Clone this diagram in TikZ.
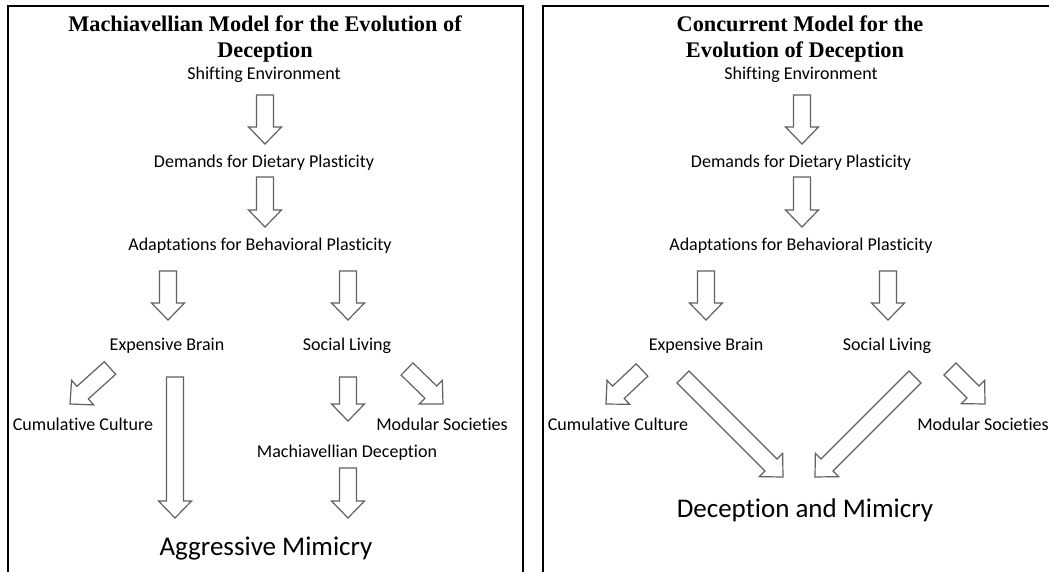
\documentclass[tikz,border=0pt]{standalone}
\usepackage{fontspec}
\setmainfont{Carlito}[Ligatures=NoCommon]
\newfontfamily\titlefont{Liberation Serif}
\usetikzlibrary{calc}
\tikzset{
  lbl/.style={font=\fontsize{18}{22}\selectfont, anchor=base, inner sep=0pt},
  bigl/.style={font=\fontsize{27}{32}\selectfont, anchor=base, inner sep=0pt},
  ttl/.style={font=\titlefont\bfseries\fontsize{22.3}{26}\selectfont, anchor=base, inner sep=0pt},
  panel/.style={line width=2pt, draw=black},
  blockarrow/.style={draw=black!62, fill=white, line width=1.2pt, line join=miter},
}
\newcommand\barrow[2]{%
  \coordinate (hh) at ($(#2)!17pt!(#1)$);
  \draw[blockarrow] ($(#1)!8.5pt!90:(#2)$) -- ($(hh)!8.5pt!90:(#2)$) -- ($(hh)!16.5pt!90:(#2)$)
    -- (#2) -- ($(hh)!16.5pt!-90:(#2)$) -- ($(hh)!8.5pt!-90:(#2)$) -- ($(#1)!8.5pt!-90:(#2)$) -- cycle;}
\begin{document}
\begin{tikzpicture}[x=1pt,y=-1pt]
\useasboundingbox (0,0) rectangle (1049,572);
\clip (0,0) rectangle (1049,572);
\fill[white] (0,0) rectangle (1049,572);
% panels
\draw[panel] (8,590) -- (8,6) -- (523,6) -- (523,590);
\draw[panel] (543,590) -- (543,6) -- (1070,6) -- (1070,590);

% ---------- left panel ----------
\node[ttl] (lt1) at (265,32) {Machiavellian Model for the Evolution of};
\node[ttl] (lt2) at (265,58) {Deception};
\node[lbl] (lse) at (264,80) {Shifting Environment};
\node[lbl] (ldd) at (264,168) {Demands for Dietary Plasticity};
\node[lbl] (lab) at (260,250) {Adaptations for Behavioral Plasticity};
\node[lbl] (leb) at (167,350) {Expensive Brain};
\node[lbl] (lsl) at (347,350) {Social Living};
\node[lbl] (lcc) at (83,430) {Cumulative Culture};
\node[lbl] (lms) at (442,430) {Modular Societies};
\node[lbl] (lmd) at (347,457) {Machiavellian Deception};
\node[bigl] (lam) at (266,555) {Aggressive Mimicry};

\coordinate (la1s) at (265,95);  \coordinate (la1e) at (265,144);
\coordinate (la2s) at (265,177); \coordinate (la2e) at (265,227);
\coordinate (la3s) at (168,271); \coordinate (la3e) at (168,320);
\coordinate (la4s) at (348,271); \coordinate (la4e) at (348,320);
\coordinate (la5s) at (110,368); \coordinate (la5e) at (70,404);
\coordinate (la6s) at (175,377); \coordinate (la6e) at (175,518);
\coordinate (la7s) at (348,377); \coordinate (la7e) at (348,421);
\coordinate (la8s) at (407,369); \coordinate (la8e) at (443,404);
\coordinate (la9s) at (348,468); \coordinate (la9e) at (348,518);
\foreach \a in {1,...,9}{\barrow{la\a s}{la\a e}}

% ---------- right panel ----------
\node[ttl] (rt1) at (800,32) {Concurrent Model for the};
\node[ttl] (rt2) at (795,58) {Evolution of Deception};
\node[lbl] (rse) at (801,80) {Shifting Environment};
\node[lbl] (rdd) at (801,168) {Demands for Dietary Plasticity};
\node[lbl] (rab) at (801,250) {Adaptations for Behavioral Plasticity};
\node[lbl] (reb) at (706,350) {Expensive Brain};
\node[lbl] (rsl) at (887,350) {Social Living};
\node[lbl] (rcc) at (618,430) {Cumulative Culture};
\node[lbl] (rms) at (983,430) {Modular Societies};
\node[bigl] (rdm) at (805,517) {Deception and Mimicry};

\coordinate (ra1s) at (802,95);  \coordinate (ra1e) at (802,144);
\coordinate (ra2s) at (802,177); \coordinate (ra2e) at (802,227);
\coordinate (ra3s) at (706,271); \coordinate (ra3e) at (706,320);
\coordinate (ra4s) at (888,271); \coordinate (ra4e) at (888,320);
\coordinate (ra5s) at (642,370); \coordinate (ra5e) at (606,404);
\coordinate (ra6s) at (683,377); \coordinate (ra6e) at (783,477);
\coordinate (ra7s) at (915,377); \coordinate (ra7e) at (815,477);
\coordinate (ra8s) at (950,369); \coordinate (ra8e) at (985,404);
\foreach \a in {1,...,8}{\barrow{ra\a s}{ra\a e}}
\end{tikzpicture}
\end{document}
